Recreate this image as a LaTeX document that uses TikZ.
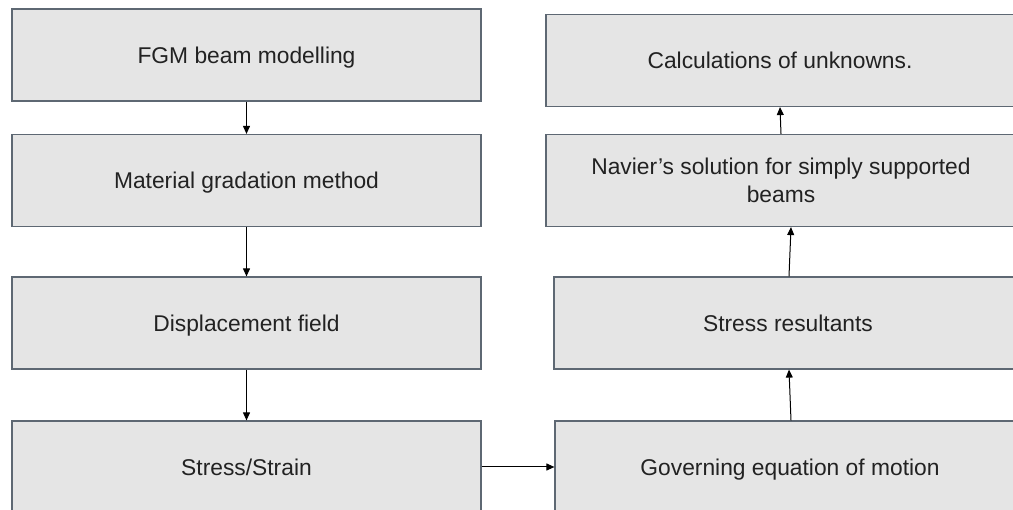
\documentclass[tikz,border=0pt]{standalone}
\usepackage{fontspec}
\setmainfont{Liberation Sans}
\usepackage{xcolor}
\usetikzlibrary{arrows.meta, positioning}

\definecolor{boxfill}{HTML}{E5E5E5}
\definecolor{boxline}{HTML}{5E6873}
\definecolor{boxtext}{HTML}{222222}

\begin{document}
\begin{tikzpicture}[x=1pt, y=-1pt,
    box/.style={draw=boxline, fill=boxfill, line width=1.2pt, minimum height=92pt,
        text=boxtext, align=center, font=\fontsize{22.8}{28}\selectfont, inner sep=0pt},
    oneline/.style={text depth=0pt, text height=16.3pt},
    arr/.style={-{Triangle[length=8pt,width=7pt]}, line width=1pt, black}]
        \useasboundingbox (0,0) rectangle (1013,510);
        \clip (0,0) rectangle (1013,510);

        % left column
        \node[box, oneline, minimum width=469pt] (fgm) at (246.5,55) {FGM beam modelling};
        \node[box, oneline, minimum width=469pt] (mat) at (246.5,180.5) {Material gradation method};
        \node[box, oneline, minimum width=469pt] (disp) at (246.5,323) {Displacement field};
        \node[box, oneline, minimum width=469pt] (ss) at (246.5,467) {Stress/Strain};

        % right column
        \node[box, oneline, minimum width=468pt] (calc) at (780,60.5) {Calculations of unknowns.};
        \node[box, minimum width=470pt] (nav) at (781,180.5) {Navier’s solution for simply supported\\beams};
        \node[box, oneline, minimum width=468pt] (res) at (788,323) {Stress resultants};
        \node[box, oneline, minimum width=470pt] (gov) at (790,467) {Governing equation of motion};

        % arrows
        \draw[arr] (fgm) -- (mat);
        \draw[arr] (mat) -- (disp);
        \draw[arr] (disp) -- (ss);
        \draw[arr] (ss) -- (gov);
        \draw[arr] ([xshift=1pt]gov.north) -- ([xshift=1pt]res.south);
        \draw[arr] ([xshift=1pt]res.north) -- ([xshift=10pt]nav.south);
        \draw[arr] (nav.north) -- (calc.south);

    \end{tikzpicture}
\end{document}
